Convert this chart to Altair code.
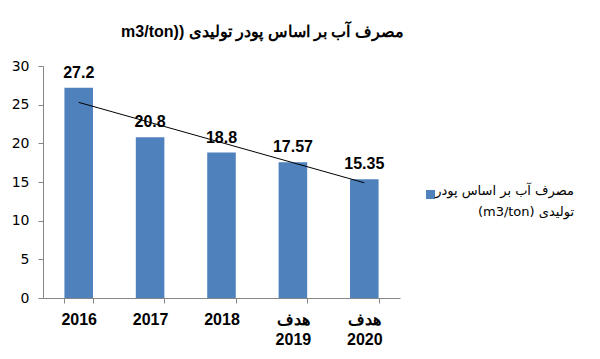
import altair as alt
import pandas as pd

categories = ["2016", "2017", "2018", "هدف|2019", "هدف|2020"]
values = [27.2, 20.8, 18.8, 17.57, 15.35]
value_labels = ["27.2", "20.8", "18.8", "17.57", "15.35"]
trend_categories = ["2016", "هدف|2020"]
trend_values = [25.3, 14.9]
series_name = "مصرف آب بر اساس پودر|(m3/ton) تولیدی"
title_text = "m3/ton)) مصرف آب بر اساس پودر تولیدی"
y_ticks = [0, 5, 10, 15, 20, 25, 30]

bars_df = pd.DataFrame({"cat": categories, "value": values,
                        "label": value_labels, "series": [series_name] * len(categories)})
trend_df = pd.DataFrame({"cat": trend_categories, "value": trend_values})

x_scale = alt.Scale(domain=categories, paddingInner=0.6, paddingOuter=0.3)
y_scale = alt.Scale(domain=[0, 30], nice=False)

x_enc = alt.X("cat:N", scale=x_scale, sort=None,
              axis=alt.Axis(title=None, labelAngle=0, labelExpr="split(datum.label, '|')",
                            labelFont="Liberation Sans", labelFontSize=16, labelFontWeight="bold",
                            labelColor="#000000", labelLineHeight=20, labelBaseline="top",
                            labelPadding=8, tickSize=5, tickColor="#868686",
                            domainColor="#868686", tickBand="extent", grid=False))
y_enc = alt.Y("value:Q", scale=y_scale,
              axis=alt.Axis(title=None, values=y_ticks, tickCount=7, labelOverlap=False,
                            labelFont="DejaVu Sans", labelFontSize=14,
                            labelColor="#000000", labelPadding=9, tickSize=5,
                            tickColor="#868686", domainColor="#868686", grid=False))

base = alt.Chart(bars_df)

bars = base.mark_bar(color="#4F81BD").encode(
    x=x_enc, y=y_enc,
    color=alt.Color("series:N", scale=alt.Scale(range=["#4F81BD"]),
                    legend=alt.Legend(title=None, orient="none", legendX=381, legendY=122,
                                      symbolType="square", symbolSize=81, symbolStrokeWidth=0,
                                      labelFont="DejaVu Sans", labelFontSize=13,
                                      labelColor="#000000", labelAlign="right",
                                      labelOffset=137, labelLimit=250,
                                      labelBaseline="alphabetic",
                                      labelExpr="split(datum.label, '|')", padding=0))
)

texts = base.mark_text(baseline="bottom", dy=-7, font="Liberation Sans", fontSize=16,
                       fontWeight="bold", color="#000000").encode(
    x=x_enc, y=y_enc, text="label:N"
)

trend = alt.Chart(trend_df).mark_line(color="#000000", strokeWidth=1).encode(
    x=x_enc, y=y_enc
)

chart = alt.layer(bars, trend, texts).properties(
    width=357, height=232,
    background="white",
    autosize=alt.AutoSizeParams(type="none"),
    padding={"left": 35, "top": 58, "right": 192, "bottom": 53},
    title=alt.TitleParams(title_text, font="Liberation Sans", fontSize=16, fontWeight="bold",
                          color="#000000", anchor="middle", dx=41, offset=6,
                          baseline="alphabetic")
).configure(style={"guide-label": {"lineHeight": 21}}).configure_view(stroke=None)

chart.save("out.html", embed_options={"renderer": "svg", "actions": False})
